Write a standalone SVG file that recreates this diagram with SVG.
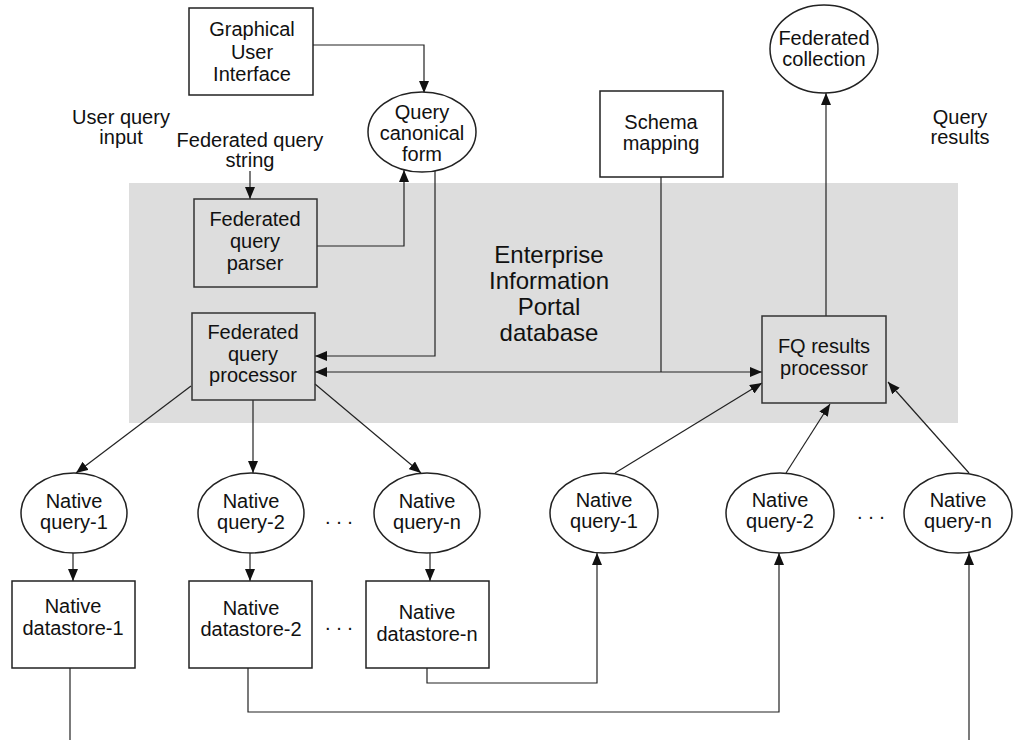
<svg xmlns="http://www.w3.org/2000/svg" width="1014" height="740" viewBox="0 0 1014 740">
  <defs>
    <style>
      text { font-family: "Liberation Sans", Arial, sans-serif; font-size: 20px; fill: #111; text-anchor: middle; }
      .big { font-size: 24px; }
      .node { fill: #fff; stroke: #222; stroke-width: 1.5; }
      .inner { fill: none; stroke: #333; stroke-width: 1.5; }
      .wire { fill: none; stroke: #222; stroke-width: 1.2; }
      .arrow { marker-end: url(#ah); }
    </style>
    <marker id="ah" viewBox="0 0 12 10" refX="12" refY="5" markerWidth="12" markerHeight="10" markerUnits="userSpaceOnUse" orient="auto-start-reverse">
      <path d="M0,0 L12,5 L0,10 z" fill="#111"/>
    </marker>
  </defs>

  <rect width="1014" height="740" fill="#fff"/>

  <!-- database region -->
  <g id="eip-database">
    <rect x="129" y="183" width="829" height="240" fill="#dddddd"/>
    <text class="big" x="549" y="263">Enterprise</text>
    <text class="big" x="549" y="289">Information</text>
    <text class="big" x="549" y="315">Portal</text>
    <text class="big" x="549" y="341">database</text>
  </g>

  <!-- free labels -->
  <g id="labels">
    <text x="121" y="124">User query</text>
    <text x="121" y="144">input</text>
    <text x="250" y="147">Federated query</text>
    <text x="250" y="167">string</text>
    <text x="960" y="124">Query</text>
    <text x="960" y="144">results</text>
    <text x="339" y="524">. . .</text>
    <text x="339" y="630">. . .</text>
    <text x="871" y="519">. . .</text>
  </g>

  <!-- connectors -->
  <g id="connectors">
    <path class="wire arrow" d="M313,45 H424 V93"/>
    <path class="wire arrow" d="M317,246 H404 V170"/>
    <path class="wire arrow" d="M435,171 V356 H315"/>
    <path class="wire" d="M315,372 H762" marker-start="url(#ah)" marker-end="url(#ah)"/>
    <path class="wire" d="M661,177 V372"/>
    <path class="wire arrow" d="M826,316 V93"/>
    <path class="wire arrow" d="M250,171 V199"/>
    <path class="wire arrow" d="M191,386 L76,473"/>
    <path class="wire arrow" d="M253,400 V473"/>
    <path class="wire arrow" d="M315,384 L421,473"/>
    <path class="wire arrow" d="M73,553 V581"/>
    <path class="wire arrow" d="M250,553 V581"/>
    <path class="wire arrow" d="M430,553 V581"/>
    <path class="wire" d="M70,668 V740"/>
    <path class="wire arrow" d="M248,668 V712 H779 V553"/>
    <path class="wire arrow" d="M427,668 V683 H597 V553"/>
    <path class="wire arrow" d="M969,740 V553"/>
    <path class="wire arrow" d="M615,473 L762,383"/>
    <path class="wire arrow" d="M786,473 L830,404"/>
    <path class="wire arrow" d="M969,473 L888,382"/>
  </g>

  <!-- nodes -->
  <g id="gui">
    <rect class="node" x="189" y="8" width="124" height="87"/>
    <text x="252" y="36">Graphical</text>
    <text x="252" y="59">User</text>
    <text x="252" y="81">Interface</text>
  </g>

  <g id="query-canonical-form">
    <ellipse class="node" cx="422" cy="132" rx="54" ry="40"/>
    <text x="422" y="119">Query</text>
    <text x="422" y="140">canonical</text>
    <text x="422" y="161">form</text>
  </g>

  <g id="federated-query-parser">
    <rect class="inner" x="194" y="199" width="123" height="88"/>
    <text x="255" y="226">Federated</text>
    <text x="255" y="248">query</text>
    <text x="255" y="270">parser</text>
  </g>

  <g id="federated-query-processor">
    <rect class="inner" x="192" y="313" width="123" height="87"/>
    <text x="253" y="339">Federated</text>
    <text x="253" y="361">query</text>
    <text x="253" y="382">processor</text>
  </g>

  <g id="schema-mapping">
    <rect class="node" x="600" y="91" width="123" height="86"/>
    <text x="661" y="129">Schema</text>
    <text x="661" y="150">mapping</text>
  </g>

  <g id="fq-results-processor">
    <rect class="inner" x="762" y="316" width="124" height="87"/>
    <text x="824" y="353">FQ results</text>
    <text x="824" y="375">processor</text>
  </g>

  <g id="federated-collection">
    <ellipse class="node" cx="824" cy="49" rx="54" ry="44"/>
    <text x="824" y="45">Federated</text>
    <text x="824" y="66">collection</text>
  </g>

  <g id="native-query-1-out">
    <ellipse class="node" cx="74" cy="513" rx="53" ry="40"/>
    <text x="74" y="508">Native</text>
    <text x="74" y="529">query-1</text>
  </g>
  <g id="native-query-2-out">
    <ellipse class="node" cx="251" cy="513" rx="53" ry="40"/>
    <text x="251" y="508">Native</text>
    <text x="251" y="529">query-2</text>
  </g>
  <g id="native-query-n-out">
    <ellipse class="node" cx="427" cy="513" rx="53" ry="40"/>
    <text x="427" y="508">Native</text>
    <text x="427" y="529">query-n</text>
  </g>

  <g id="native-datastore-1">
    <rect class="node" x="12" y="581" width="123" height="87"/>
    <text x="73" y="613">Native</text>
    <text x="73" y="635">datastore-1</text>
  </g>
  <g id="native-datastore-2">
    <rect class="node" x="189" y="581" width="123" height="87"/>
    <text x="251" y="615">Native</text>
    <text x="251" y="636">datastore-2</text>
  </g>
  <g id="native-datastore-n">
    <rect class="node" x="366" y="581" width="123" height="87"/>
    <text x="427" y="619">Native</text>
    <text x="427" y="641">datastore-n</text>
  </g>

  <g id="native-query-1-in">
    <ellipse class="node" cx="604" cy="513" rx="54" ry="40"/>
    <text x="604" y="507">Native</text>
    <text x="604" y="528">query-1</text>
  </g>
  <g id="native-query-2-in">
    <ellipse class="node" cx="780" cy="513" rx="54" ry="40"/>
    <text x="780" y="507">Native</text>
    <text x="780" y="528">query-2</text>
  </g>
  <g id="native-query-n-in">
    <ellipse class="node" cx="958" cy="513" rx="54" ry="40"/>
    <text x="958" y="507">Native</text>
    <text x="958" y="528">query-n</text>
  </g>
</svg>
